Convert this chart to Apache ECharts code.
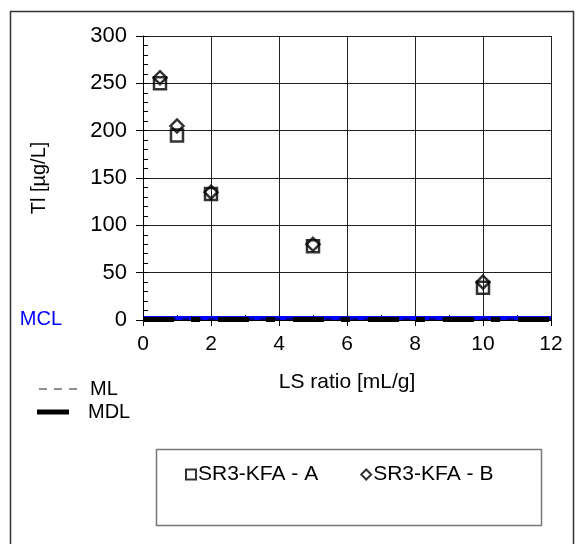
<!DOCTYPE html>
<html><head><meta charset="utf-8">
<script src="https://cdn.jsdelivr.net/npm/echarts@6/dist/echarts.min.js"></script>
<style>html,body{margin:0;padding:0;background:#fff}#c{width:579px;height:544px}</style>
</head><body><div id="c"></div>
<script>
const lsRatio = [0.5, 1, 2, 5, 10];
const seriesA = [250, 195, 133, 78, 34];
const seriesB = [256, 205, 135, 80, 40];
const nameA = 'SR3-KFA - A';
const nameB = 'SR3-KFA - B';
const limitX = [0, 12];
const mclValue = 2;
const mlValue = 1;
const mdlValue = 0.5;

const F = 'Liberation Sans, Arial, sans-serif';
const pts = (ys) => lsRatio.map((x, i) => [x, ys[i]]);
const flat = (v) => limitX.map(x => [x, v]);

const chart = echarts.init(document.getElementById('c'), null, {renderer: 'canvas'});
chart.setOption({
  animation: false,
  backgroundColor: '#fff',
  textStyle: {fontFamily: F, color: '#000'},
  grid: {left: 143, right: 28, top: 36, bottom: 224, containLabel: false},
  xAxis: [{
    type: 'value', min: 0, max: 12, interval: 2, position: 'bottom',
    name: 'LS ratio [mL/g]', nameLocation: 'middle', nameGap: 52,
    nameTextStyle: {fontSize: 21, fontFamily: F, color: '#000'},
    axisLine: {show: true, onZero: false, lineStyle: {color: '#000', width: 1}},
    axisTick: {show: true, inside: false, length: 6, lineStyle: {color: '#000'}},
    axisLabel: {fontSize: 21, fontFamily: F, color: '#000', margin: 14},
    splitLine: {show: true, lineStyle: {color: '#222', width: 1}}
  }, {
    type: 'value', min: 0, max: 12, interval: 1, position: 'bottom',
    axisLine: {show: false}, axisLabel: {show: false},
    axisTick: {show: true, inside: true, length: 5, lineStyle: {color: '#000'}},
    splitLine: {show: false}
  }],
  yAxis: [{
    type: 'value', min: 0, max: 300, interval: 50, position: 'left',
    name: 'Tl [µg/L]', nameLocation: 'middle', nameGap: 94, nameRotate: 90,
    nameTextStyle: {fontSize: 20, fontFamily: F, color: '#000'},
    axisLine: {show: true, onZero: false, lineStyle: {color: '#000', width: 1}},
    axisTick: {show: true, inside: false, length: 7, lineStyle: {color: '#000'}},
    axisLabel: {fontSize: 22, fontFamily: F, color: '#000', margin: 16},
    splitLine: {show: true, lineStyle: {color: '#222', width: 1}}
  }, {
    type: 'value', min: 0, max: 300, interval: 10, position: 'left',
    axisLine: {show: false}, axisLabel: {show: false},
    axisTick: {show: true, inside: true, length: 5, lineStyle: {color: '#000'}},
    splitLine: {show: false}
  }],
  legend: [{
    orient: 'vertical', left: 34, top: 374, itemWidth: 38, itemHeight: 1,
    data: [{name: 'ML', icon: 'path://M0,0h8v1h-8z M15,0h8v1h-8z M30,0h8v1h-8z'}],
    itemStyle: {color: '#222'},
    textStyle: {fontSize: 20, fontFamily: F, color: '#000', padding: [0, 0, 0, 8]}
  }, {
    orient: 'vertical', left: 32, top: 397, itemWidth: 32, itemHeight: 5,
    data: [{name: 'MDL', icon: 'rect'}],
    itemStyle: {color: '#000'},
    textStyle: {fontSize: 20, fontFamily: F, color: '#000', padding: [0, 0, 0, 14]}
  }, {
    orient: 'horizontal', left: 180, top: 459, itemWidth: 10, itemHeight: 10, itemGap: 42,
    data: [nameA, nameB],
    itemStyle: {color: 'rgba(0,0,0,0)', borderColor: '#000', borderWidth: 2},
    textStyle: {fontSize: 21, fontFamily: F, color: '#000', padding: [0, 0, 0, -3]}
  }],
  graphic: [
    {type: 'rect', left: 8, top: 9, shape: {width: 563, height: 560},
     style: {fill: 'none', stroke: '#333', lineWidth: 1.5}, silent: true, z: -1},
    {type: 'rect', left: 154, top: 447, shape: {width: 385, height: 76},
     style: {fill: 'none', stroke: '#777', lineWidth: 1.5}, silent: true, z: -1}
  ],
  series: [
    {name: 'MCL', type: 'line', data: flat(mclValue), symbol: 'none', z: 2,
     itemStyle: {color: '#0000ff'},
     lineStyle: {color: '#0000ff', width: 4}},
    {name: 'ML', type: 'line', data: flat(mlValue), symbol: 'none', z: 3,
     itemStyle: {color: '#000'},
     lineStyle: {color: '#000', width: 1, type: [7, 6]}},
    {name: 'MDL', type: 'line', data: flat(mdlValue), symbol: 'none', z: 4,
     itemStyle: {color: '#000'},
     lineStyle: {color: '#000', width: 5, type: [31, 17, 9, 18]}},
    {name: nameA, type: 'scatter', data: pts(seriesA), symbol: 'rect', symbolSize: 12, z: 5,
     itemStyle: {color: 'rgba(0,0,0,0)', borderColor: '#000', borderWidth: 2.5}},
    {name: nameB, type: 'scatter', data: pts(seriesB), symbol: 'diamond', symbolSize: 13, z: 6,
     itemStyle: {color: 'rgba(0,0,0,0)', borderColor: '#000', borderWidth: 2.5}}
  ]
});
const p = chart.convertToPixel({gridIndex: 0}, [limitX[0], mclValue]);
chart.setOption({
  graphic: [{}, {}, {
    type: 'text', x: p[0] - 81, y: p[1] + 1, silent: true,
    style: {text: 'MCL', fill: '#0000ff', font: '20px ' + F, textAlign: 'right', textVerticalAlign: 'middle'}
  }]
});
</script></body></html>
